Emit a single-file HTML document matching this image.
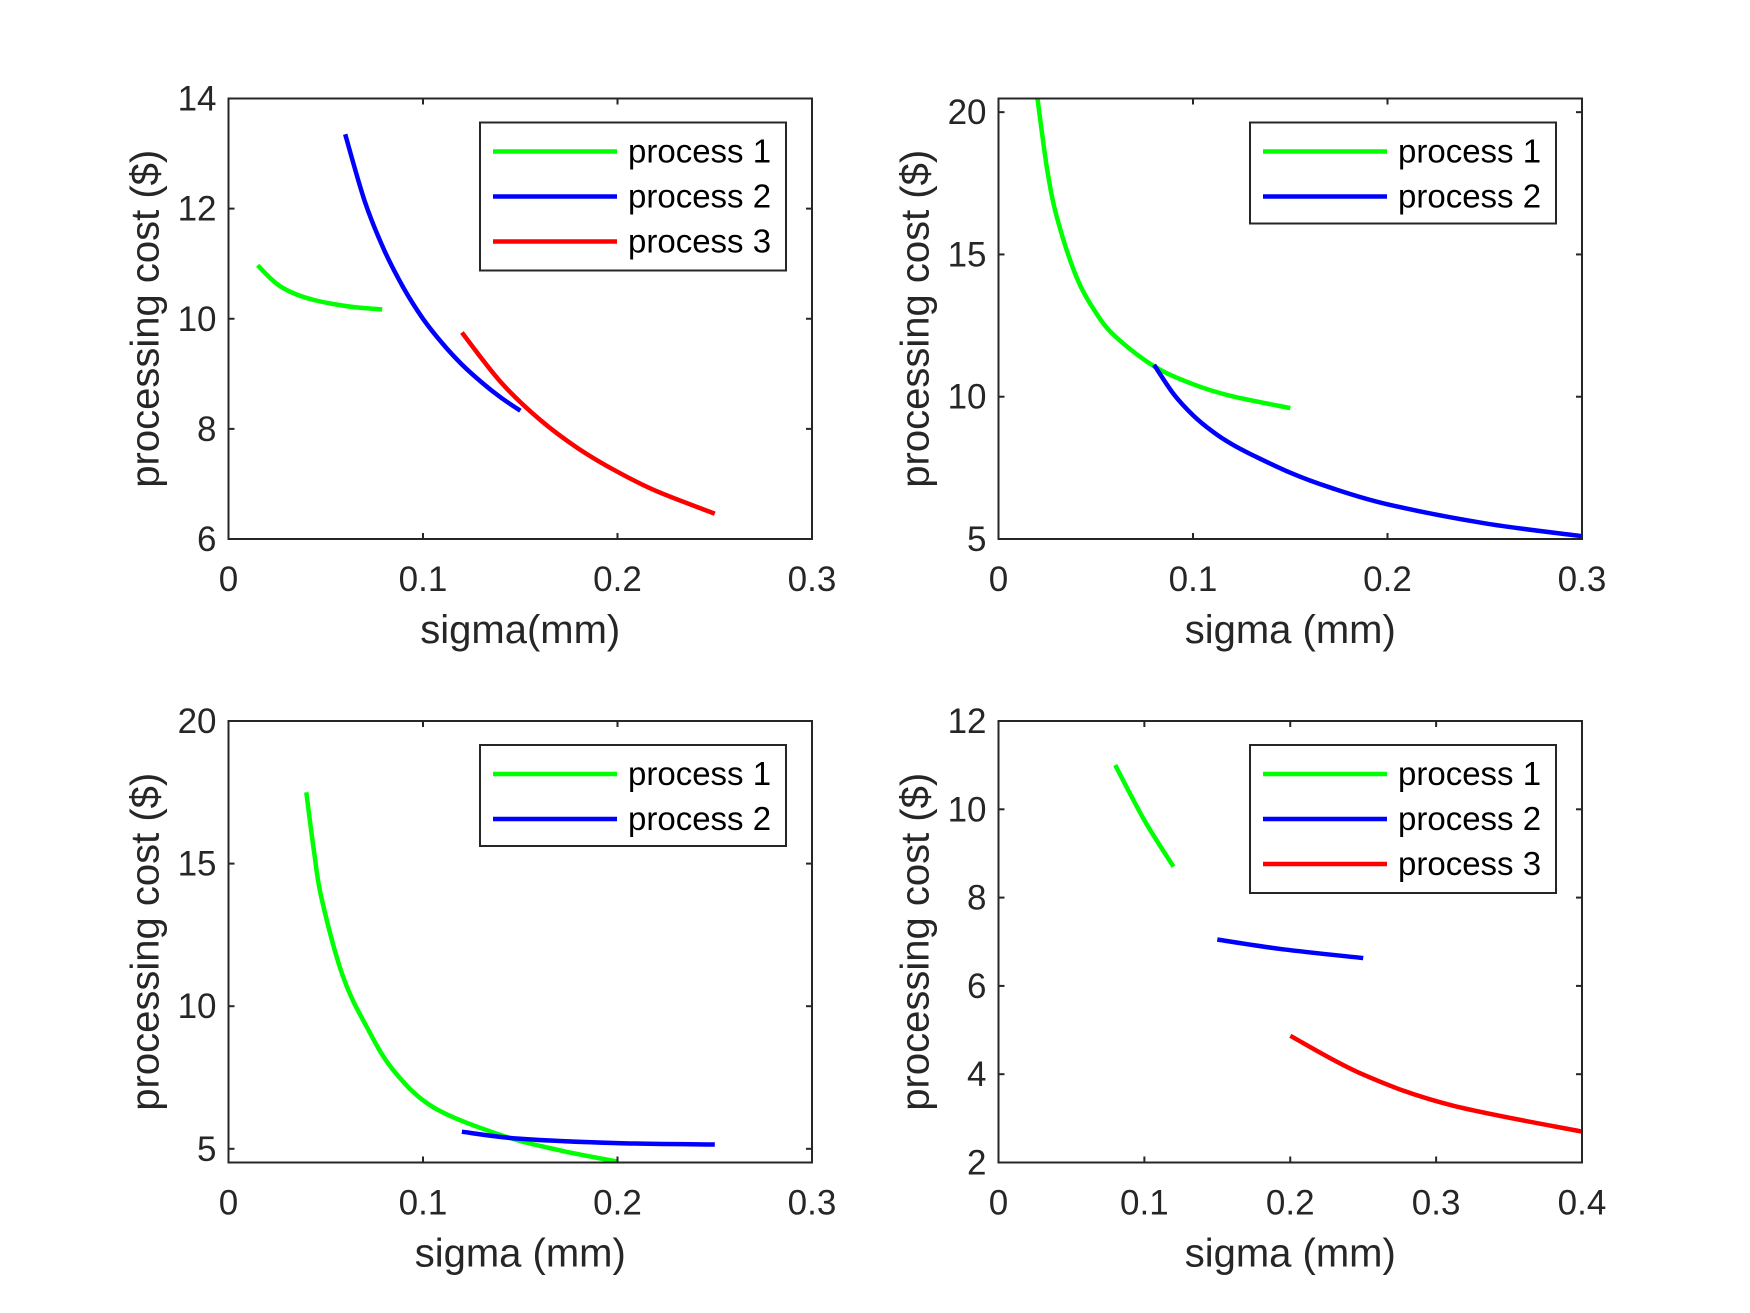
<!DOCTYPE html>
<html><head><meta charset="utf-8"><style>
html,body{margin:0;padding:0;background:#fff;}
svg{display:block;font-family:"Liberation Sans",Arial,sans-serif;}
</style></head><body>
<svg id="fig" width="1750" height="1313" viewBox="0 0 1750 1313" xmlns="http://www.w3.org/2000/svg"></svg>
<script>
// ---- data ----
const p1Green_x=[0.015,0.018,0.022,0.027,0.035,0.044,0.055,0.065,0.079];
const p1Green_y=[10.97,10.86,10.72,10.58,10.44,10.34,10.26,10.21,10.17];
const p1Blue_x=[0.06,0.07,0.08,0.09,0.1,0.11,0.12,0.13,0.14,0.15];
const p1Blue_y=[13.35,12.14,11.25,10.56,10.0,9.55,9.17,8.85,8.57,8.33];
const p1Red_x=[0.12,0.14,0.16,0.18,0.2,0.22,0.25];
const p1Red_y=[9.75,8.85,8.17,7.64,7.22,6.87,6.46];

const p2Green_x=[0.02,0.025,0.03,0.04,0.05,0.06,0.08,0.1,0.12,0.15];
const p2Green_y=[20.5,18.0,16.32,14.22,12.96,12.12,11.07,10.44,10.02,9.6];
const p2Blue_x=[0.08,0.09,0.1,0.11,0.12,0.13,0.15,0.17,0.2,0.25,0.3];
const p2Blue_y=[11.12,10.1,9.35,8.78,8.33,7.97,7.33,6.82,6.22,5.55,5.1];

const p3Green_x=[0.04,0.044,0.048,0.0589,0.0711,0.0846,0.105,0.1396,0.17,0.2];
const p3Green_y=[17.5,15.4,13.73,11.03,9.27,7.77,6.47,5.49,4.95,4.55];
const p3Blue_x=[0.12,0.15,0.2,0.25];
const p3Blue_y=[5.6,5.35,5.2,5.15];

const p4Green_x=[0.08,0.1,0.12];
const p4Green_y=[11.0,9.75,8.7];
const p4Blue_x=[0.15,0.195,0.25];
const p4Blue_y=[7.05,6.83,6.63];
const p4Red_x=[0.2,0.25,0.31,0.4];
const p4Red_y=[4.87,3.99,3.3,2.7];

const xTicks3=[0,0.1,0.2,0.3];
const xTicks4=[0,0.1,0.2,0.3,0.4];
const yTicks1=[6,8,10,12,14];
const yTicks2=[5,10,15,20];
const yTicks3=[5,10,15,20];
const yTicks4=[2,4,6,8,10,12];
const legendNames=["process 1","process 2","process 3"];

const NS="http://www.w3.org/2000/svg";
const svg=document.getElementById('fig');
function mk(tag,attrs,parent){const e=document.createElementNS(NS,tag);for(const k in attrs)e.setAttribute(k,attrs[k]);(parent||svg).appendChild(e);return e;}
const C={g:'#00ff00',b:'#0000ff',r:'#ff0000'};
const ax='#262626';

function smoothPath(P){
  let d='M'+P[0][0].toFixed(1)+','+P[0][1].toFixed(1);
  for(let i=0;i<P.length-1;i++){
    const p0=P[Math.max(i-1,0)],p1=P[i],p2=P[i+1],p3=P[Math.min(i+2,P.length-1)];
    const c1=[p1[0]+(p2[0]-p0[0])/6,p1[1]+(p2[1]-p0[1])/6];
    const c2=[p2[0]-(p3[0]-p1[0])/6,p2[1]-(p3[1]-p1[1])/6];
    d+=' C'+c1[0].toFixed(1)+','+c1[1].toFixed(1)+' '+c2[0].toFixed(1)+','+c2[1].toFixed(1)+' '+p2[0].toFixed(1)+','+p2[1].toFixed(1);
  }
  return d;
}

function panel(id,box,xlim,ylim,xt,yt,xlabel,series,legendN){
  const g=mk('g',{});
  
  
  const [L,T,R,B]=box;
  const sx=v=>L+(v-xlim[0])/(xlim[1]-xlim[0])*(R-L);
  const sy=v=>B-(v-ylim[0])/(ylim[1]-ylim[0])*(B-T);
  const clip='clip-'+id;
  const cp=mk('clipPath',{id:clip},g);mk('rect',{x:L,y:T,width:R-L,height:B-T},cp);
  series.forEach(s=>{
    const P=s.x.map((v,i)=>[sx(v),sy(s.y[i])]);
    const p=mk('path',{d:smoothPath(P),fill:'none',stroke:s.c,'stroke-width':4.5,'stroke-linejoin':'round','clip-path':'url(#'+clip+')'},g);
    
    
  });
  const frame=mk('rect',{x:L,y:T,width:R-L,height:B-T,fill:'none',stroke:ax,'stroke-width':2},g);
  
  
  xt.forEach(v=>{
    const x=sx(v);
    mk('line',{x1:x,y1:B,x2:x,y2:B-6,stroke:ax,'stroke-width':2},g);
    mk('line',{x1:x,y1:T,x2:x,y2:T+6,stroke:ax,'stroke-width':2},g);
    const t=mk('text',{x:x,y:B+52,'text-anchor':'middle','font-size':35,fill:ax},g);
    t.textContent=String(v);
    
    
  });
  yt.forEach(v=>{
    const y=sy(v);
    mk('line',{x1:L,y1:y,x2:L+6,y2:y,stroke:ax,'stroke-width':2},g);
    mk('line',{x1:R,y1:y,x2:R-6,y2:y,stroke:ax,'stroke-width':2},g);
    const t=mk('text',{x:L-12,y:y+12,'text-anchor':'end','font-size':35,fill:ax},g);
    t.textContent=String(v);
    
    
  });
  const xl=mk('text',{x:(L+R)/2,y:B+104,'text-anchor':'middle','font-size':40,fill:ax},g);
  xl.textContent=xlabel;
  
  
  const cy=(T+B)/2, cx=L-84;
  const yl=mk('text',{x:cx,y:cy+14,'text-anchor':'middle','font-size':40,fill:ax,transform:'rotate(-90 '+cx+' '+(cy)+')'},g);
  yl.textContent='processing cost ($)';
  
  
  // legend
  const lw=306, lh=legendN===3?148:101;
  const lx=R-26-lw, ly=T+24;
  const lg=mk('g',{},g);
  
  
  mk('rect',{x:lx,y:ly,width:lw,height:lh,fill:'#fff',stroke:ax,'stroke-width':2},lg);
  const cols=[C.g,C.b,C.r];
  for(let i=0;i<legendN;i++){
    const y=ly+29+i*45;
    const e=mk('g',{},lg);
    
    
    mk('line',{x1:lx+13,y1:y,x2:lx+137,y2:y,stroke:cols[i],'stroke-width':4.5},e);
    const t=mk('text',{x:lx+148,y:y+11,'font-size':33,fill:'#000'},e);
    t.textContent=legendNames[i];
  }
}
panel('subplot-1',[228.5,98.5,812,539],[0,0.3],[6,14],xTicks3,yTicks1,'sigma(mm)',
 [{x:p1Green_x,y:p1Green_y,c:C.g,name:'process-1-line'},{x:p1Blue_x,y:p1Blue_y,c:C.b,name:'process-2-line'},{x:p1Red_x,y:p1Red_y,c:C.r,name:'process-3-line'}],3);
panel('subplot-2',[998.5,98.5,1582,539],[0,0.3],[5,20.48],xTicks3,yTicks2,'sigma (mm)',
 [{x:p2Green_x,y:p2Green_y,c:C.g,name:'process-1-line'},{x:p2Blue_x,y:p2Blue_y,c:C.b,name:'process-2-line'}],2);
panel('subplot-3',[228.5,721,812,1162.5],[0,0.3],[4.52,20],xTicks3,yTicks3,'sigma (mm)',
 [{x:p3Green_x,y:p3Green_y,c:C.g,name:'process-1-line'},{x:p3Blue_x,y:p3Blue_y,c:C.b,name:'process-2-line'}],2);
panel('subplot-4',[998.5,721,1582,1162.5],[0,0.4],[2,12],xTicks4,yTicks4,'sigma (mm)',
 [{x:p4Green_x,y:p4Green_y,c:C.g,name:'process-1-line'},{x:p4Blue_x,y:p4Blue_y,c:C.b,name:'process-2-line'},{x:p4Red_x,y:p4Red_y,c:C.r,name:'process-3-line'}],3);
</script>
</body></html>
